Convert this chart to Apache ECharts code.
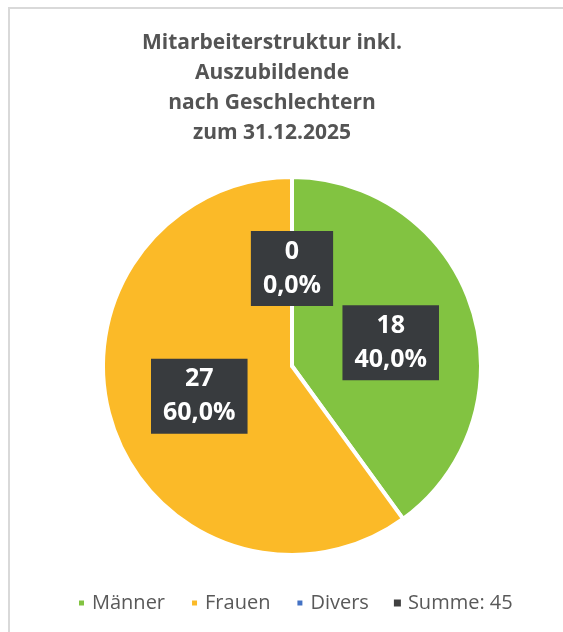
<!DOCTYPE html>
<html>
<head>
<meta charset="utf-8">
<script src="https://cdn.jsdelivr.net/npm/echarts@6/dist/echarts.min.js"></script>
<style>
  html, body { margin: 0; padding: 0; background: #fff; }
  #chart { width: 563px; height: 632px; }
</style>
</head>
<body>
<div id="chart"></div>
<script>
var categories = ['Männer', 'Frauen', 'Divers'];
var values = [18, 27, 0];
var colors = ['#82c341', '#fbba28', '#4472c4'];
var titleText = 'Mitarbeiterstruktur inkl.\nAuszubildende\nnach Geschlechtern\nzum 31.12.2025';

var total = values.reduce(function (a, b) { return a + b; }, 0);
var sumName = 'Summe: ' + total;

// small nudges so the boxes sit where Excel put them
var labelOffsets = { 'Männer': [6, 7] };

var chart = echarts.init(document.getElementById('chart'));

var pieData = categories.map(function (name, i) {
    var d = { name: name, value: values[i], itemStyle: { color: colors[i] } };
    if (labelOffsets[name]) d.label = { offset: labelOffsets[name] };
    return d;
});

var option = {
    animation: false,
    legend: {
        bottom: 14,
        left: 72,
        icon: 'rect',
        itemWidth: 7,
        itemHeight: 7,
        itemGap: 25,
        data: categories.concat([sumName]),
        textStyle: { fontFamily: 'Open Sans', fontSize: 20, color: '#595959', padding: [0, 0, 0, 2] }
    },
    graphic: [
        {
            type: 'rect',
            shape: { x: 9, y: 8, width: 700, height: 800 },
            style: { fill: 'none', stroke: '#d9d9d9', lineWidth: 2 },
            silent: true
        },
        {
            type: 'text',
            x: 272,
            y: 28,
            style: {
                text: titleText,
                align: 'center',
                verticalAlign: 'top',
                fontFamily: 'Open Sans',
                fontSize: 21,
                fontWeight: 'bold',
                fill: '#545454',
                lineHeight: 30
            },
            silent: true
        }
    ],
    series: [
        {
            type: 'pie',
            center: [292, 366],
            radius: 189,
            startAngle: 90,
            clockwise: true,
            itemStyle: { borderColor: '#fff', borderWidth: 4 },
            label: {
                show: true,
                position: 'inside',
                formatter: function (p) {
                    return p.value + '\n' + p.percent.toFixed(1).replace('.', ',') + '%';
                },
                fontFamily: 'Open Sans',
                fontSize: 25,
                fontWeight: 'bold',
                color: '#fff',
                lineHeight: 34,
                backgroundColor: '#383b3e',
                padding: [4, 12, 3, 12]
            },
            labelLine: { show: false },
            data: pieData
        },
        {
            // dummy series so the sum shows up in the legend
            type: 'pie',
            center: [292, 366],
            radius: 0,
            silent: true,
            label: { show: false },
            labelLine: { show: false },
            itemStyle: { color: '#404040', borderWidth: 0 },
            data: [{ name: sumName, value: total }]
        }
    ]
};
chart.setOption(option);
</script>
</body>
</html>
